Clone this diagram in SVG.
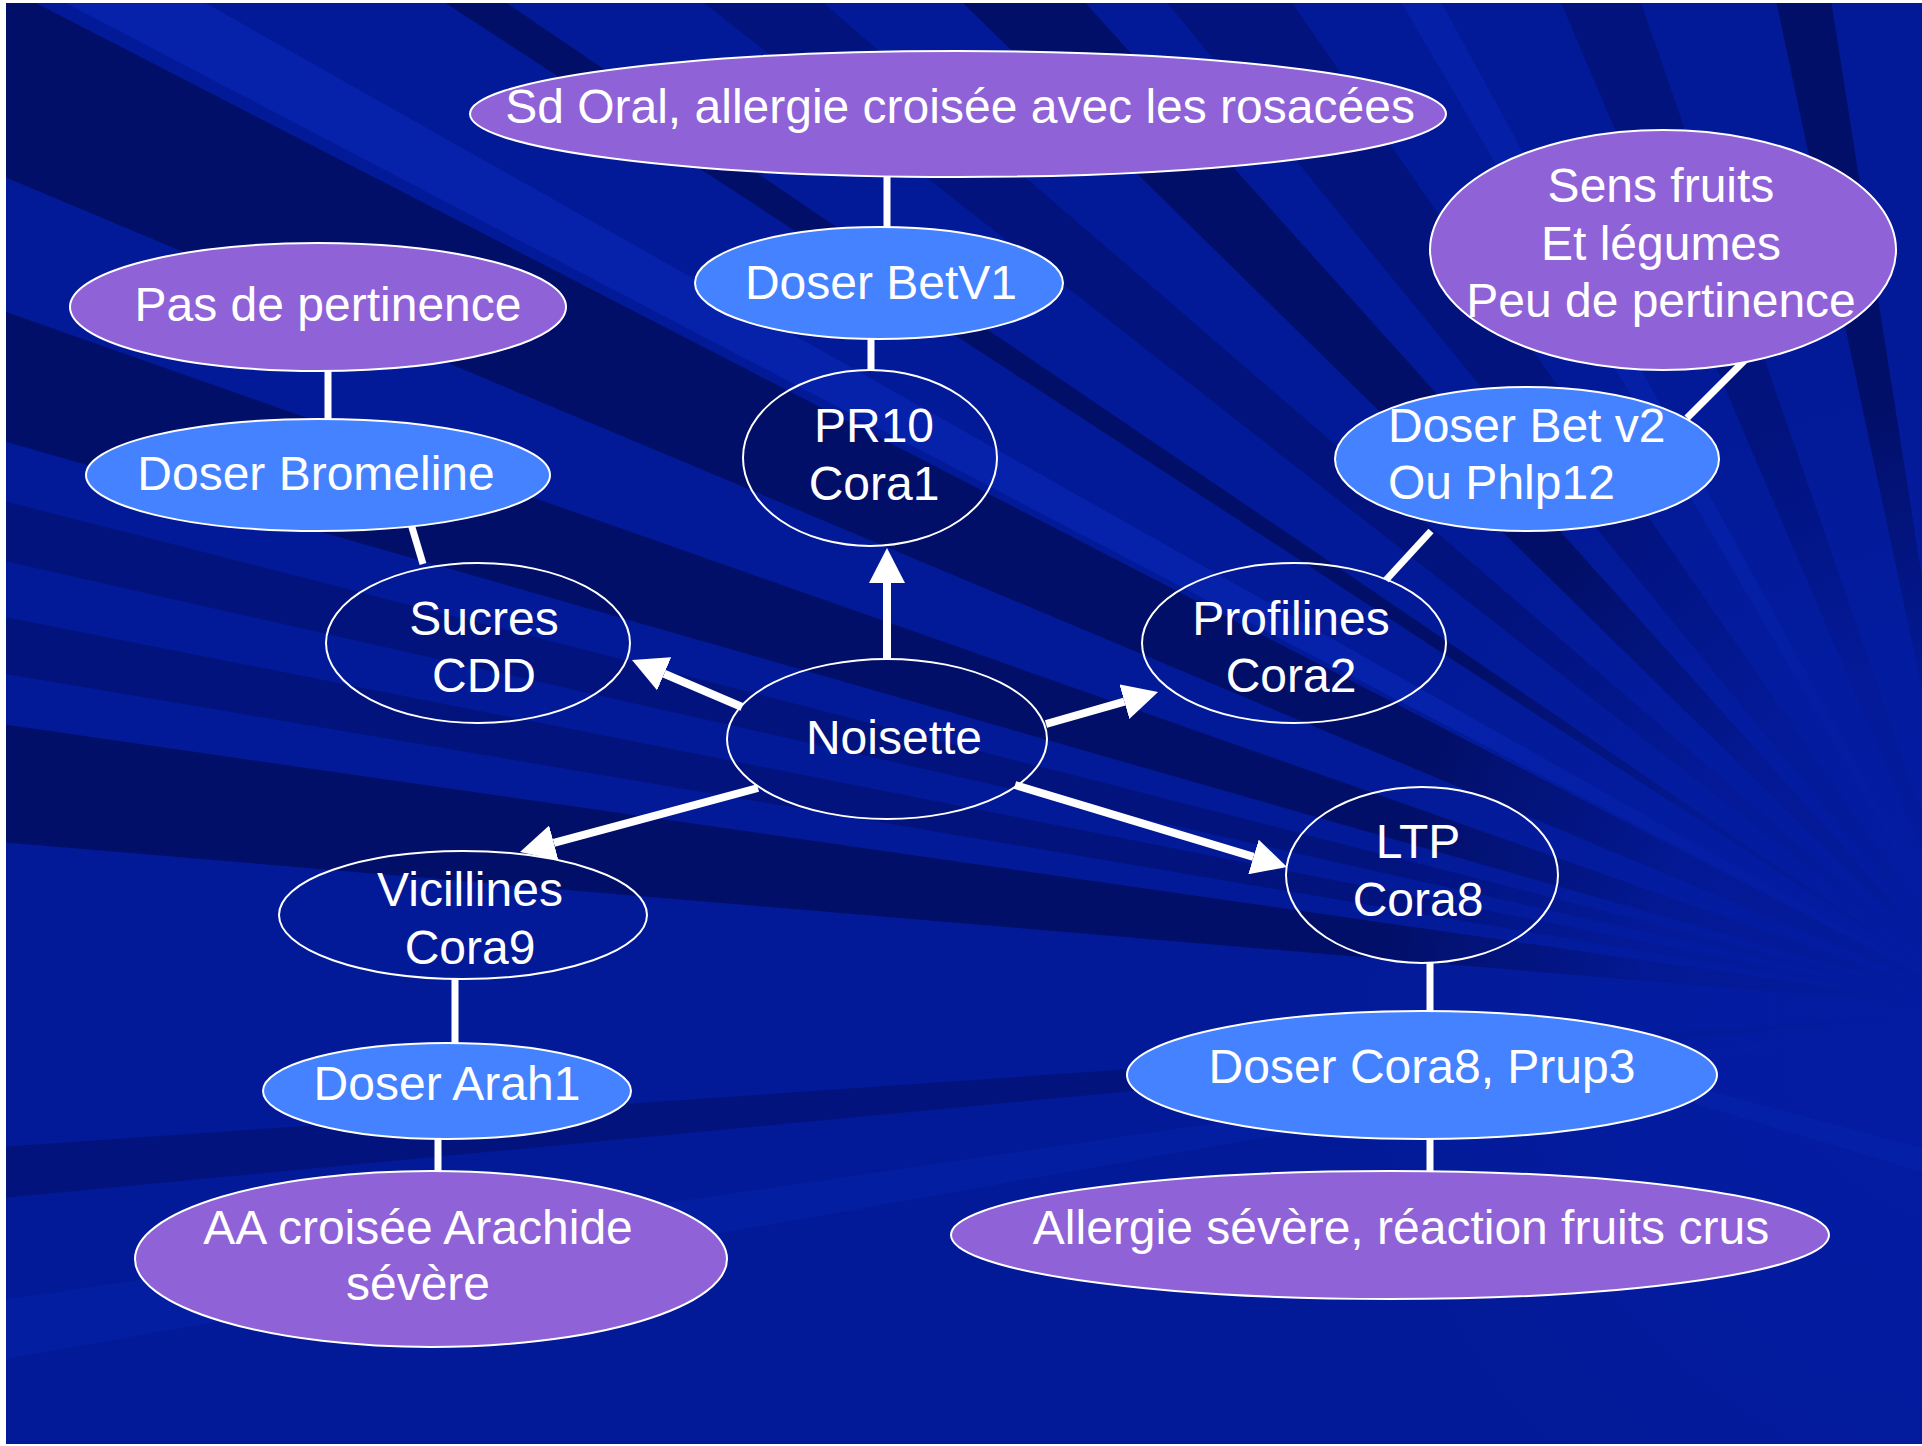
<svg xmlns="http://www.w3.org/2000/svg" width="1922" height="1446" viewBox="0 0 1922 1446">
  <defs>
    <clipPath id="bgclip"><rect x="6" y="3" width="1916" height="1441"/></clipPath>
    <radialGradient id="fade" gradientUnits="userSpaceOnUse" cx="1990" cy="1010" r="620">
      <stop offset="0" stop-color="#041CA2" stop-opacity="1"/>
      <stop offset="0.55" stop-color="#041CA2" stop-opacity="0.75"/>
      <stop offset="1" stop-color="#041CA2" stop-opacity="0"/>
    </radialGradient>
    <marker id="arrow" markerUnits="userSpaceOnUse" markerWidth="36" markerHeight="36" refX="0" refY="18" orient="auto" viewBox="0 0 36 36">
      <path d="M0,0 L35,18 L0,36 Z" fill="#ffffff"/>
    </marker>
    <style>
      .purple { fill: #9062D8; stroke: #ffffff; stroke-width: 2; }
      .blue { fill: #4582FF; stroke: #ffffff; stroke-width: 2; }
      .dark { fill: none; stroke: #ffffff; stroke-width: 2; }
      .lbl { font-family: "Liberation Sans", Arial, sans-serif; font-size: 48px; fill: #ffffff; text-anchor: middle; }
      .lbl-start { font-family: "Liberation Sans", Arial, sans-serif; font-size: 48px; fill: #ffffff; text-anchor: start; }
      .link { stroke: #ffffff; stroke-width: 7; fill: none; }
      .arr { stroke: #ffffff; stroke-width: 8; fill: none; marker-end: url(#arrow); }
      .rd { fill: #020F68; }
      .rm { fill: #02137E; }
      .rl { fill: #0622AA; }
    </style>
  </defs>

  <rect x="0" y="0" width="1922" height="1446" fill="#ffffff"/>
  <g id="background" clip-path="url(#bgclip)">
    <rect x="6" y="3" width="1916" height="1441" fill="#031A98"/>
    <polygon class="rd" points="1990,1010 0,175 0,0 30,0"/>
    <polygon class="rl" points="1990,1010 60,0 200,0"/>
    <polygon class="rd" points="1990,1010 0,310 0,440"/>
    <polygon class="rm" points="1990,1010 0,500 0,560"/>
    <polygon class="rm" points="1990,1010 0,616 0,673"/>
    <polygon class="rd" points="1990,1010 0,724 0,842"/>
    <polygon class="rm" points="1990,1010 0,1147 0,1198"/>
    <polygon class="rl" points="1990,1010 0,1300 0,1360" opacity="0.5"/>
    <polygon class="rd" points="1990,1010 441,0 502,0"/>
    <polygon class="rm" points="1990,1010 700,0 820,0"/>
    <polygon class="rd" points="1990,1010 960,0 1083,0"/>
    <polygon class="rm" points="1990,1010 1165,0 1290,0"/>
    <polygon class="rl" points="1990,1010 1400,0 1440,0" opacity="0.8"/>
    <polygon class="rm" points="1990,1010 1560,0 1640,0"/>
    <polygon class="rd" points="1990,1010 1776,0 1831,0"/>
    <rect x="6" y="3" width="1916" height="1441" fill="url(#fade)"/>
    <polygon class="rl" points="1650,1075 1922,1148 1922,1172 1650,1090" opacity="0.7"/>
  </g>

  <g id="connectors">
    <line class="link" x1="887" y1="176" x2="887" y2="228"/>
    <line class="link" x1="871" y1="338" x2="871" y2="371"/>
    <line class="link" x1="328" y1="370" x2="328" y2="420"/>
    <line class="link" x1="408" y1="514" x2="423" y2="564"/>
    <line class="link" x1="1431" y1="531" x2="1386" y2="580"/>
    <line class="link" x1="1750" y1="355" x2="1687" y2="418"/>
    <line class="link" x1="455" y1="978" x2="455" y2="1044"/>
    <line class="link" x1="438" y1="1138" x2="438" y2="1172"/>
    <line class="link" x1="1430" y1="962" x2="1430" y2="1012"/>
    <line class="link" x1="1430" y1="1138" x2="1430" y2="1171"/>
    <line class="arr" x1="887" y1="659" x2="887" y2="583"/>
    <line class="arr" x1="742" y1="707" x2="664.2" y2="673.8"/>
    <line class="arr" x1="758" y1="788" x2="553.8" y2="842.9"/>
    <line class="arr" x1="1046" y1="724" x2="1124.4" y2="701.6"/>
    <line class="arr" x1="1015" y1="785" x2="1253.5" y2="856.9"/>
  </g>

  <g id="sdoral">
    <ellipse class="purple" cx="958" cy="114" rx="488" ry="63"/>
    <text class="lbl" x="960" y="123">Sd Oral, allergie croisée avec les rosacées</text>
  </g>
  <g id="betv1">
    <ellipse class="blue" cx="879" cy="283" rx="184" ry="56"/>
    <text class="lbl" x="881" y="299">Doser BetV1</text>
  </g>
  <g id="pr10">
    <ellipse class="dark" cx="870" cy="458" rx="127" ry="88"/>
    <text class="lbl" x="874" y="442">PR10</text>
    <text class="lbl" x="874" y="500">Cora1</text>
  </g>
  <g id="pasdepertinence">
    <ellipse class="purple" cx="318" cy="307" rx="248" ry="64"/>
    <text class="lbl" x="328" y="321">Pas de pertinence</text>
  </g>
  <g id="bromeline">
    <ellipse class="blue" cx="318" cy="475" rx="232" ry="56"/>
    <text class="lbl" x="316" y="490">Doser Bromeline</text>
  </g>
  <g id="sucres">
    <ellipse class="dark" cx="478" cy="643" rx="152" ry="80"/>
    <text class="lbl" x="484" y="635">Sucres</text>
    <text class="lbl" x="484" y="692">CDD</text>
  </g>
  <g id="noisette">
    <ellipse class="dark" cx="887" cy="739" rx="160" ry="80"/>
    <text class="lbl" x="894" y="754">Noisette</text>
  </g>
  <g id="profilines">
    <ellipse class="dark" cx="1294" cy="643" rx="152" ry="80"/>
    <text class="lbl" x="1291" y="635">Profilines</text>
    <text class="lbl" x="1291" y="692">Cora2</text>
  </g>
  <g id="ltp">
    <ellipse class="dark" cx="1422" cy="875" rx="136" ry="88"/>
    <text class="lbl" x="1418" y="858">LTP</text>
    <text class="lbl" x="1418" y="916">Cora8</text>
  </g>
  <g id="dosercora8">
    <ellipse class="blue" cx="1422" cy="1075" rx="295" ry="64"/>
    <text class="lbl" x="1422" y="1083">Doser Cora8, Prup3</text>
  </g>
  <g id="allergie">
    <ellipse class="purple" cx="1390" cy="1235" rx="439" ry="64"/>
    <text class="lbl" x="1401" y="1244">Allergie sévère, réaction fruits crus</text>
  </g>
  <g id="vicillines">
    <ellipse class="dark" cx="463" cy="915" rx="184" ry="64"/>
    <text class="lbl" x="470" y="906">Vicillines</text>
    <text class="lbl" x="470" y="964">Cora9</text>
  </g>
  <g id="arah1">
    <ellipse class="blue" cx="447" cy="1091" rx="184" ry="48"/>
    <text class="lbl" x="447" y="1100">Doser Arah1</text>
  </g>
  <g id="aacroisee">
    <ellipse class="purple" cx="431" cy="1259" rx="296" ry="88"/>
    <text class="lbl" x="418" y="1244">AA croisée Arachide</text>
    <text class="lbl" x="418" y="1300">sévère</text>
  </g>
  <g id="sensfruits">
    <ellipse class="purple" cx="1663" cy="250" rx="233" ry="120"/>
    <text class="lbl" x="1661" y="202">Sens fruits</text>
    <text class="lbl" x="1661" y="260">Et légumes</text>
    <text class="lbl" x="1661" y="317">Peu de pertinence</text>
  </g>
  <g id="betv2">
    <ellipse class="blue" cx="1527" cy="459" rx="192" ry="72"/>
    <text class="lbl-start" x="1388" y="442">Doser Bet v2</text>
    <text class="lbl-start" x="1388" y="499">Ou Phlp12</text>
  </g>
</svg>
